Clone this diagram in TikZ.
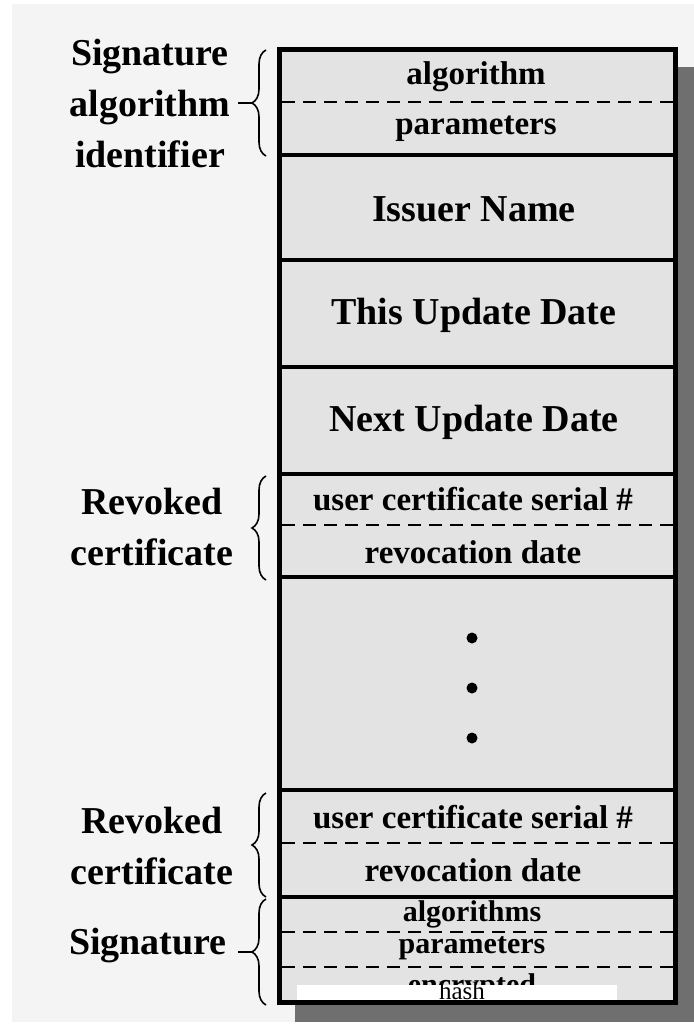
\documentclass[tikz,border=0pt]{standalone}
\usepackage{fontspec}
\setmainfont{Liberation Serif}
\usetikzlibrary{decorations.pathreplacing}
\definecolor{bggray}{HTML}{F4F4F4}
\definecolor{cellgray}{HTML}{E3E3E3}
\definecolor{shadowgray}{HTML}{6F6F6F}
\begin{document}
\begin{tikzpicture}[x=1pt,y=-1pt,
  big/.style={font=\fontsize{38}{46}\selectfont\bfseries, inner sep=0},
  mid/.style={font=\fontsize{33}{40}\selectfont\bfseries, inner sep=0},
  sml/.style={font=\fontsize{30}{36}\selectfont\bfseries, inner sep=0},
  lab/.style={font=\fontsize{38}{51}\selectfont\bfseries, align=center, inner sep=0},
  solidline/.style={line width=4.5pt},
  dashline/.style={line width=2pt, dash pattern=on 13pt off 8pt},
  brc/.style={decorate, decoration={brace, amplitude=14pt}, line width=1.6pt}]
\useasboundingbox (0,0) rectangle (694,1029);
\fill[bggray] (12,4) rectangle (694,1022);
\fill[shadowgray] (295,67) rectangle (696,1022);
\fill[cellgray] (279,49) rectangle (676,1003);
% horizontal separators
\foreach \y in {155,260,367,474,577,790,897} \draw[solidline] (279,\y) -- (676,\y);
\foreach \y in {102,525,843,932,967} \draw[dashline] (282,\y) -- (674,\y);
% cell texts
\node[mid] (alg) at (476,77) {algorithm};
\node[mid] (par) at (476,129) {parameters};
\node[big] (iss) at (474,209) {Issuer Name};
\node[big] (tud) at (474,315) {This Update Date};
\node[big] (nud) at (474,422) {Next Update Date};
\node[mid] (ucs1) at (473,499) {user certificate serial \#};
\node[mid] (rd1) at (473,552) {revocation date};
\fill (472,638) circle (5.5);
\fill (472,688) circle (5.5);
\fill (472,738) circle (5.5);
\node[mid] (ucs2) at (473,817) {user certificate serial \#};
\node[mid] (rd2) at (473,870) {revocation date};
\node[sml] (algs) at (472,914) {algorithms};
\node[sml] (par2) at (472,948) {parameters};
\node[sml, anchor=base] (enc) at (472,994) {encrypted};
\fill[white] (297,985) rectangle (617,1001);
\node[font=\fontsize{25}{30}\selectfont, inner sep=0, anchor=base] (hash) at (462,999) {hash};
% frame
\draw[line width=5pt] (279.5,49.5) rectangle (675.5,1002.5);
% braces
\coordinate (b1t) at (266,50); \coordinate (b1b) at (266,156);
\coordinate (b2t) at (266,476); \coordinate (b2b) at (266,580);
\coordinate (b3t) at (266,793); \coordinate (b3b) at (266,897);
\coordinate (b4t) at (266,899); \coordinate (b4b) at (266,1005);
\draw[brc] (b1b) -- (b1t);
\draw[brc] (b2b) -- (b2t);
\draw[brc] (b3b) -- (b3t);
\draw[brc] (b4b) -- (b4t);
\coordinate (t1) at (252,103);
\coordinate (t4) at (252,952);
\node[lab] (sai) at (150,103) {Signature\\algorithm\\identifier};
\node[lab] (rc1) at (152,527) {Revoked\\certificate};
\node[lab] (rc2) at (152,846) {Revoked\\certificate};
\node[lab] (sig) at (148,945) {Signature};
\draw[line width=1.6pt] (t1) -- (238,103);
\draw[line width=1.6pt] (t4) -- (238,952);
\end{tikzpicture}
\end{document}
